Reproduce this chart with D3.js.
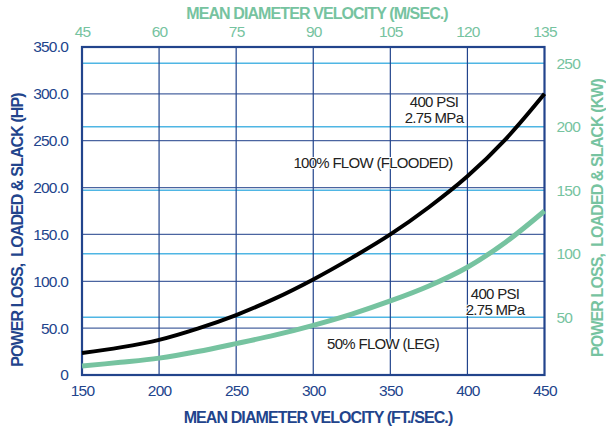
<!DOCTYPE html>
<html>
<head>
<meta charset="utf-8">
<script src="https://cdn.jsdelivr.net/npm/d3@7"></script>
<style>
  body { margin: 0; background: #fff; }
  svg text { font-family: "Liberation Sans", Arial, sans-serif; }
</style>
</head>
<body>
<div id="chart"></div>
<script>
// data
var velocityFt = [150, 175, 200, 225, 250, 275, 300, 325, 350, 375, 400, 425, 450];
var flowFull = [23.5, 29.5, 37.5, 49.5, 64, 81.5, 102, 125, 150, 179, 212, 252, 300];   // 100% flow (flooded), HP
var flowHalf = [9.6, 13.5, 18, 25, 33.5, 42.5, 53, 65, 79, 95, 115, 142, 175];          // 50% flow (leg), HP

var hpTicks = [0, 50, 100, 150, 200, 250, 300, 350];
var kwTicks = [50, 100, 150, 200, 250];
var ftTicks = [150, 200, 250, 300, 350, 400, 450];
var mTicks = [45, 60, 75, 90, 105, 120, 135];
// kW axis anchors (kW -> HP position as printed)
var kwDomain = [50, 250];
var kwAtHp = [61.6, 332.6];

var navy = '#22448c',
    navyGrid = '#4a64a0',
    lightBlue = '#4fb6e4',
    green = '#76c3a0';

var W = 606, H = 429;
var svg = d3.select('#chart').append('svg').attr('width', W).attr('height', H);

var x = d3.scaleLinear().domain([150, 450]).range([82, 544.5]);
var xTop = d3.scaleLinear().domain([45, 135]).range(x.range());
var y = d3.scaleLinear().domain([0, 350]).range([375, 47]);
var y2 = d3.scaleLinear().domain(kwDomain).range([y(kwAtHp[0]), y(kwAtHp[1])]);

var grid = svg.append('g');

// light blue kW lines
grid.selectAll('.kw').data(kwTicks).enter().append('line')
  .attr('x1', x(150)).attr('x2', x(450))
  .attr('y1', function(d) { return y2(d); }).attr('y2', function(d) { return y2(d); })
  .style('stroke', lightBlue).style('stroke-width', 1.4);

// HP lines
grid.selectAll('.hp').data(hpTicks.slice(1, -1)).enter().append('line')
  .attr('x1', x(150)).attr('x2', x(450))
  .attr('y1', function(d) { return y(d); }).attr('y2', function(d) { return y(d); })
  .style('stroke', navyGrid).style('stroke-width', 1.2);

// vertical lines
grid.selectAll('.vx').data(ftTicks.slice(1, -1)).enter().append('line')
  .attr('y1', y(0)).attr('y2', y(350))
  .attr('x1', function(d) { return x(d); }).attr('x2', function(d) { return x(d); })
  .style('stroke', navy).style('stroke-width', 1.2);

// frame
svg.append('rect')
  .attr('x', x(150)).attr('y', y(350))
  .attr('width', x(450) - x(150)).attr('height', y(0) - y(350))
  .style('fill', 'none').style('stroke', navy).style('stroke-width', 2.2);

// curves
var line = d3.line()
  .x(function(d) { return x(d[0]); })
  .y(function(d) { return y(d[1]); })
  .curve(d3.curveCatmullRom.alpha(0.5));

svg.append('path').datum(d3.zip(velocityFt, flowHalf))
  .attr('d', line)
  .style('fill', 'none').style('stroke', green).style('stroke-width', 5);

svg.append('path').datum(d3.zip(velocityFt, flowFull))
  .attr('d', line)
  .style('fill', 'none').style('stroke', '#000').style('stroke-width', 4);

// axes
function styleAxis(g, col) {
  g.select('.domain').remove();
  g.selectAll('.tick line').remove();
  g.selectAll('text').style('font-size', '15.5px').style('letter-spacing', '-0.8px').style('fill', col);
}

svg.append('g').attr('transform', 'translate(0,' + (y(0) + 6) + ')')
  .call(d3.axisBottom(x).tickValues(ftTicks).tickSize(0).tickPadding(4))
  .call(styleAxis, navy);

svg.append('g').attr('transform', 'translate(0,' + (y(350) - 6) + ')')
  .call(d3.axisTop(xTop).tickValues(mTicks).tickSize(0).tickPadding(4))
  .call(styleAxis, green);

svg.append('g').attr('transform', 'translate(' + (x(150) - 14) + ',0)')
  .call(d3.axisLeft(y).tickValues(hpTicks).tickSize(0).tickPadding(0)
    .tickFormat(function(d) { return d === 0 ? '0' : d3.format('.1f')(d); }))
  .call(styleAxis, navy);

svg.append('g').attr('transform', 'translate(' + (x(450) + 12) + ',0)')
  .call(d3.axisRight(y2).tickValues(kwTicks).tickSize(0).tickPadding(0))
  .call(styleAxis, green);

// axis titles
function title(txt, tx, ty, rot, col) {
  svg.append('text')
    .attr('transform', 'translate(' + tx + ',' + ty + ') rotate(' + rot + ')')
    .attr('text-anchor', 'middle')
    .attr('xml:space', 'preserve')
    .style('white-space', 'pre')
    .style('font-size', '16px').style('font-weight', 'bold').style('letter-spacing', '-0.9px')
    .style('fill', col)
    .text(txt);
}
title('MEAN DIAMETER VELOCITY (FT./SEC.)', 318, 423, 0, navy);
title('MEAN DIAMETER VELOCITY (M/SEC.)', 317, 19, 0, green);
title('POWER LOSS,  LOADED & SLACK (HP)', 23, 230, -90, navy);
title('POWER LOSS,  LOADED & SLACK (KW)', 603, 218, -90, green);

// annotations
var notes = [
  { t: '400 PSI', x: 434, y: 107 },
  { t: '2.75 MPa', x: 434, y: 123 },
  { t: '100% FLOW (FLOODED)', x: 373, y: 168 },
  { t: '400 PSI', x: 495, y: 299 },
  { t: '2.75 MPa', x: 495, y: 315 },
  { t: '50% FLOW (LEG)', x: 383, y: 349 }
];
svg.selectAll('.note').data(notes).enter().append('text')
  .attr('x', function(d) { return d.x; })
  .attr('y', function(d) { return d.y; })
  .attr('text-anchor', 'middle')
  .style('font-size', '15px').style('letter-spacing', '-0.7px')
  .style('fill', '#222')
  .style('paint-order', 'stroke').style('stroke', '#fff').style('stroke-width', 2)
  .text(function(d) { return d.t; });
</script>
</body>
</html>
